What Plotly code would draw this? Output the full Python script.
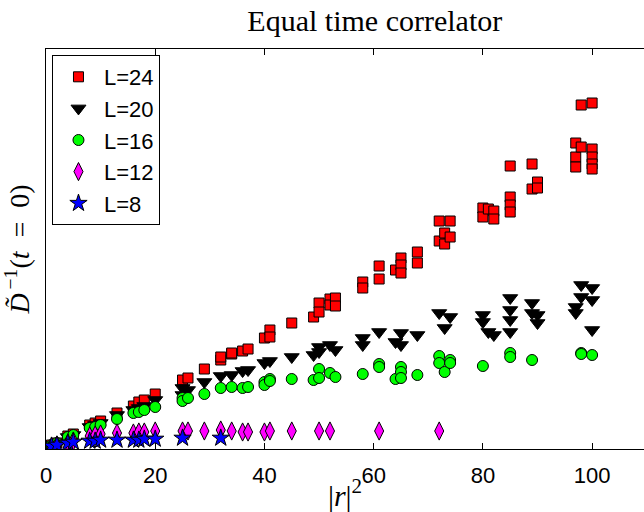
import plotly.graph_objects as go

# ---- data (|r|^2 and inverse propagator, arbitrary units) ----
x24 = [1, 2, 4, 5, 8, 9, 10, 13, 16, 17, 18, 20, 25, 26, 29, 32, 32, 34, 34, 36, 37, 40, 41, 41, 45,
       49, 50, 50, 52, 52, 53, 53, 58, 58, 61, 61, 64, 65, 65, 65, 68, 68, 72, 72, 73, 73, 74, 74,
       80, 80, 81, 82, 82, 85, 85, 85, 85, 89, 89, 90, 90, 97, 97, 97, 98, 98, 100, 100, 100, 100, 100]
y24 = [0.04, 0.06, 0.13, 0.15, 0.24, 0.26, 0.28, 0.36, 0.43, 0.47, 0.49, 0.55, 0.69, 0.71, 0.80, 0.89, 0.92,
       0.95, 0.96, 0.98, 1.00, 1.11, 1.19, 1.12, 1.26,
       1.32, 1.46, 1.37, 1.50, 1.44, 1.51, 1.43, 1.67, 1.61, 1.83, 1.70, 1.79, 1.91, 1.84, 1.76, 1.97, 1.86,
       2.28, 2.08, 2.16, 2.05, 2.28, 2.12,
       2.41, 2.32, 2.40, 2.38, 2.30, 2.83, 2.52, 2.44, 2.37, 2.85, 2.60, 2.67, 2.61, 3.06, 2.92, 2.82,
       3.44, 3.02, 3.46, 3.00, 2.92, 2.85, 2.80]

x20 = [1, 2, 4, 5, 8, 9, 10, 13, 16, 17, 18, 20, 25, 25, 26, 29, 32, 34, 36, 37, 40, 41, 45, 49, 50, 50,
       52, 53, 58, 58, 61, 64, 65, 65, 68, 72, 73, 74, 80, 80, 81, 82, 85, 85, 85, 85, 89, 89, 90, 90,
       97, 97, 98, 98, 100, 100, 100]
y20 = [0.04, 0.06, 0.12, 0.14, 0.22, 0.24, 0.26, 0.34, 0.39, 0.41, 0.43, 0.49, 0.61, 0.54, 0.59, 0.67,
       0.73, 0.74, 0.78, 0.79, 0.86, 0.88, 0.92, 0.94, 1.02, 0.97,
       1.04, 0.99, 1.11, 1.04, 1.17, 1.07, 1.16, 1.04, 1.14, 1.36, 1.21, 1.32, 1.34, 1.27, 1.17, 1.14,
       1.51, 1.39, 1.29, 1.17, 1.46, 1.36, 1.34, 1.26,
       1.42, 1.36, 1.64, 1.52, 1.61, 1.49, 1.19]

x16 = [1, 2, 4, 5, 8, 9, 10, 13, 16, 17, 18, 20, 25, 25, 26, 29, 32, 34, 36, 37, 40, 40, 41, 41, 45, 49,
       50, 50, 52, 53, 58, 61, 61, 64, 65, 65, 65, 68, 72, 72, 73, 74, 74, 80, 85, 85, 89, 98, 98, 100]
y16 = [0.035, 0.06, 0.12, 0.14, 0.21, 0.22, 0.24, 0.30, 0.36, 0.37, 0.39, 0.42, 0.51, 0.48, 0.51, 0.55,
       0.61, 0.62, 0.61, 0.62, 0.67, 0.64, 0.70, 0.68, 0.70, 0.69,
       0.80, 0.71, 0.76, 0.72, 0.75, 0.85, 0.82, 0.70, 0.82, 0.77, 0.71, 0.74, 0.93, 0.86, 0.77, 0.89, 0.86,
       0.83, 0.96, 0.92, 0.89, 0.96, 0.95, 0.94]

x12 = [1, 2, 4, 5, 8, 9, 10, 13, 16, 17, 18, 20, 25, 26, 29, 32, 34, 36, 37, 40, 41, 45, 50, 52, 61, 72]
y12 = [0.02, 0.04, 0.06, 0.08, 0.13, 0.14, 0.15, 0.16, 0.16, 0.17, 0.17, 0.18, 0.18, 0.18, 0.18, 0.19,
       0.18, 0.17, 0.17, 0.17, 0.18, 0.18, 0.18, 0.18, 0.18, 0.18]

x8 = [1, 2, 4, 5, 8, 9, 10, 13, 16, 17, 18, 20, 25, 32]
y8 = [0.03, 0.04, 0.06, 0.07, 0.08, 0.08, 0.09, 0.09, 0.09, 0.09, 0.10, 0.10, 0.11, 0.11]

x_ticks = [0, 20, 40, 60, 80, 100]

series = [
    ("L=24", x24, y24, "square", "#ff0000", 10),
    ("L=20", x20, y20, "triangle-down", "#000000", 13),
    ("L=16", x16, y16, "circle", "#00ff00", 11),
    ("L=12", x12, y12, "diamond-tall", "#ff00ff", 13),
    ("L=8", x8, y8, "star", "#0000ff", 13),
]

fig = go.Figure()
for name, xs, ys, sym, col, sz in series:
    fig.add_trace(go.Scatter(
        x=xs, y=ys, mode="markers", name=name,
        marker=dict(symbol=sym, color=col, size=sz,
                    line=dict(color="black", width=1)),
    ))

fig.update_layout(
    width=644, height=512,
    margin=dict(l=46, r=0, t=49, b=63),
    plot_bgcolor="white", paper_bgcolor="white",
    showlegend=True,
    title=dict(text="Equal time correlator", x=0.582, xref="container", xanchor="center",
               y=0.96, yref="container", yanchor="middle",
               font=dict(family="Liberation Serif", size=30, color="black")),
    legend=dict(x=0.01, y=0.985, xanchor="left", yanchor="top",
                bgcolor="white", bordercolor="black", borderwidth=1,
                font=dict(family="Liberation Sans", size=22, color="black"),
                itemwidth=41, tracegroupgap=0),
    font=dict(family="Liberation Sans", color="black"),
)
fig.update_xaxes(
    range=[0, 109.5], tickvals=x_ticks, ticks="inside", ticklen=6, tickcolor="black",
    showline=True, linecolor="black", linewidth=1, mirror="allticks", showgrid=False, zeroline=False,
    tickfont=dict(family="Liberation Sans", size=22, color="black"), ticklabelstandoff=7,
    title=dict(text="|<i>r</i>|<sup>2</sup>", standoff=2,
               font=dict(family="Liberation Serif", size=30, color="black")),
)
fig.update_yaxes(
    range=[0, 4.0], showticklabels=False, ticks="", showline=True, linecolor="black", linewidth=1,
    mirror=False, showgrid=False, zeroline=False,
    title=dict(text="<i>D̃</i><sup>\u2009−1</sup>(<i>t</i>\u2002=\u20020)", standoff=12,
               font=dict(family="Liberation Serif", size=28, color="black")),
)
fig.write_html("out.html")
